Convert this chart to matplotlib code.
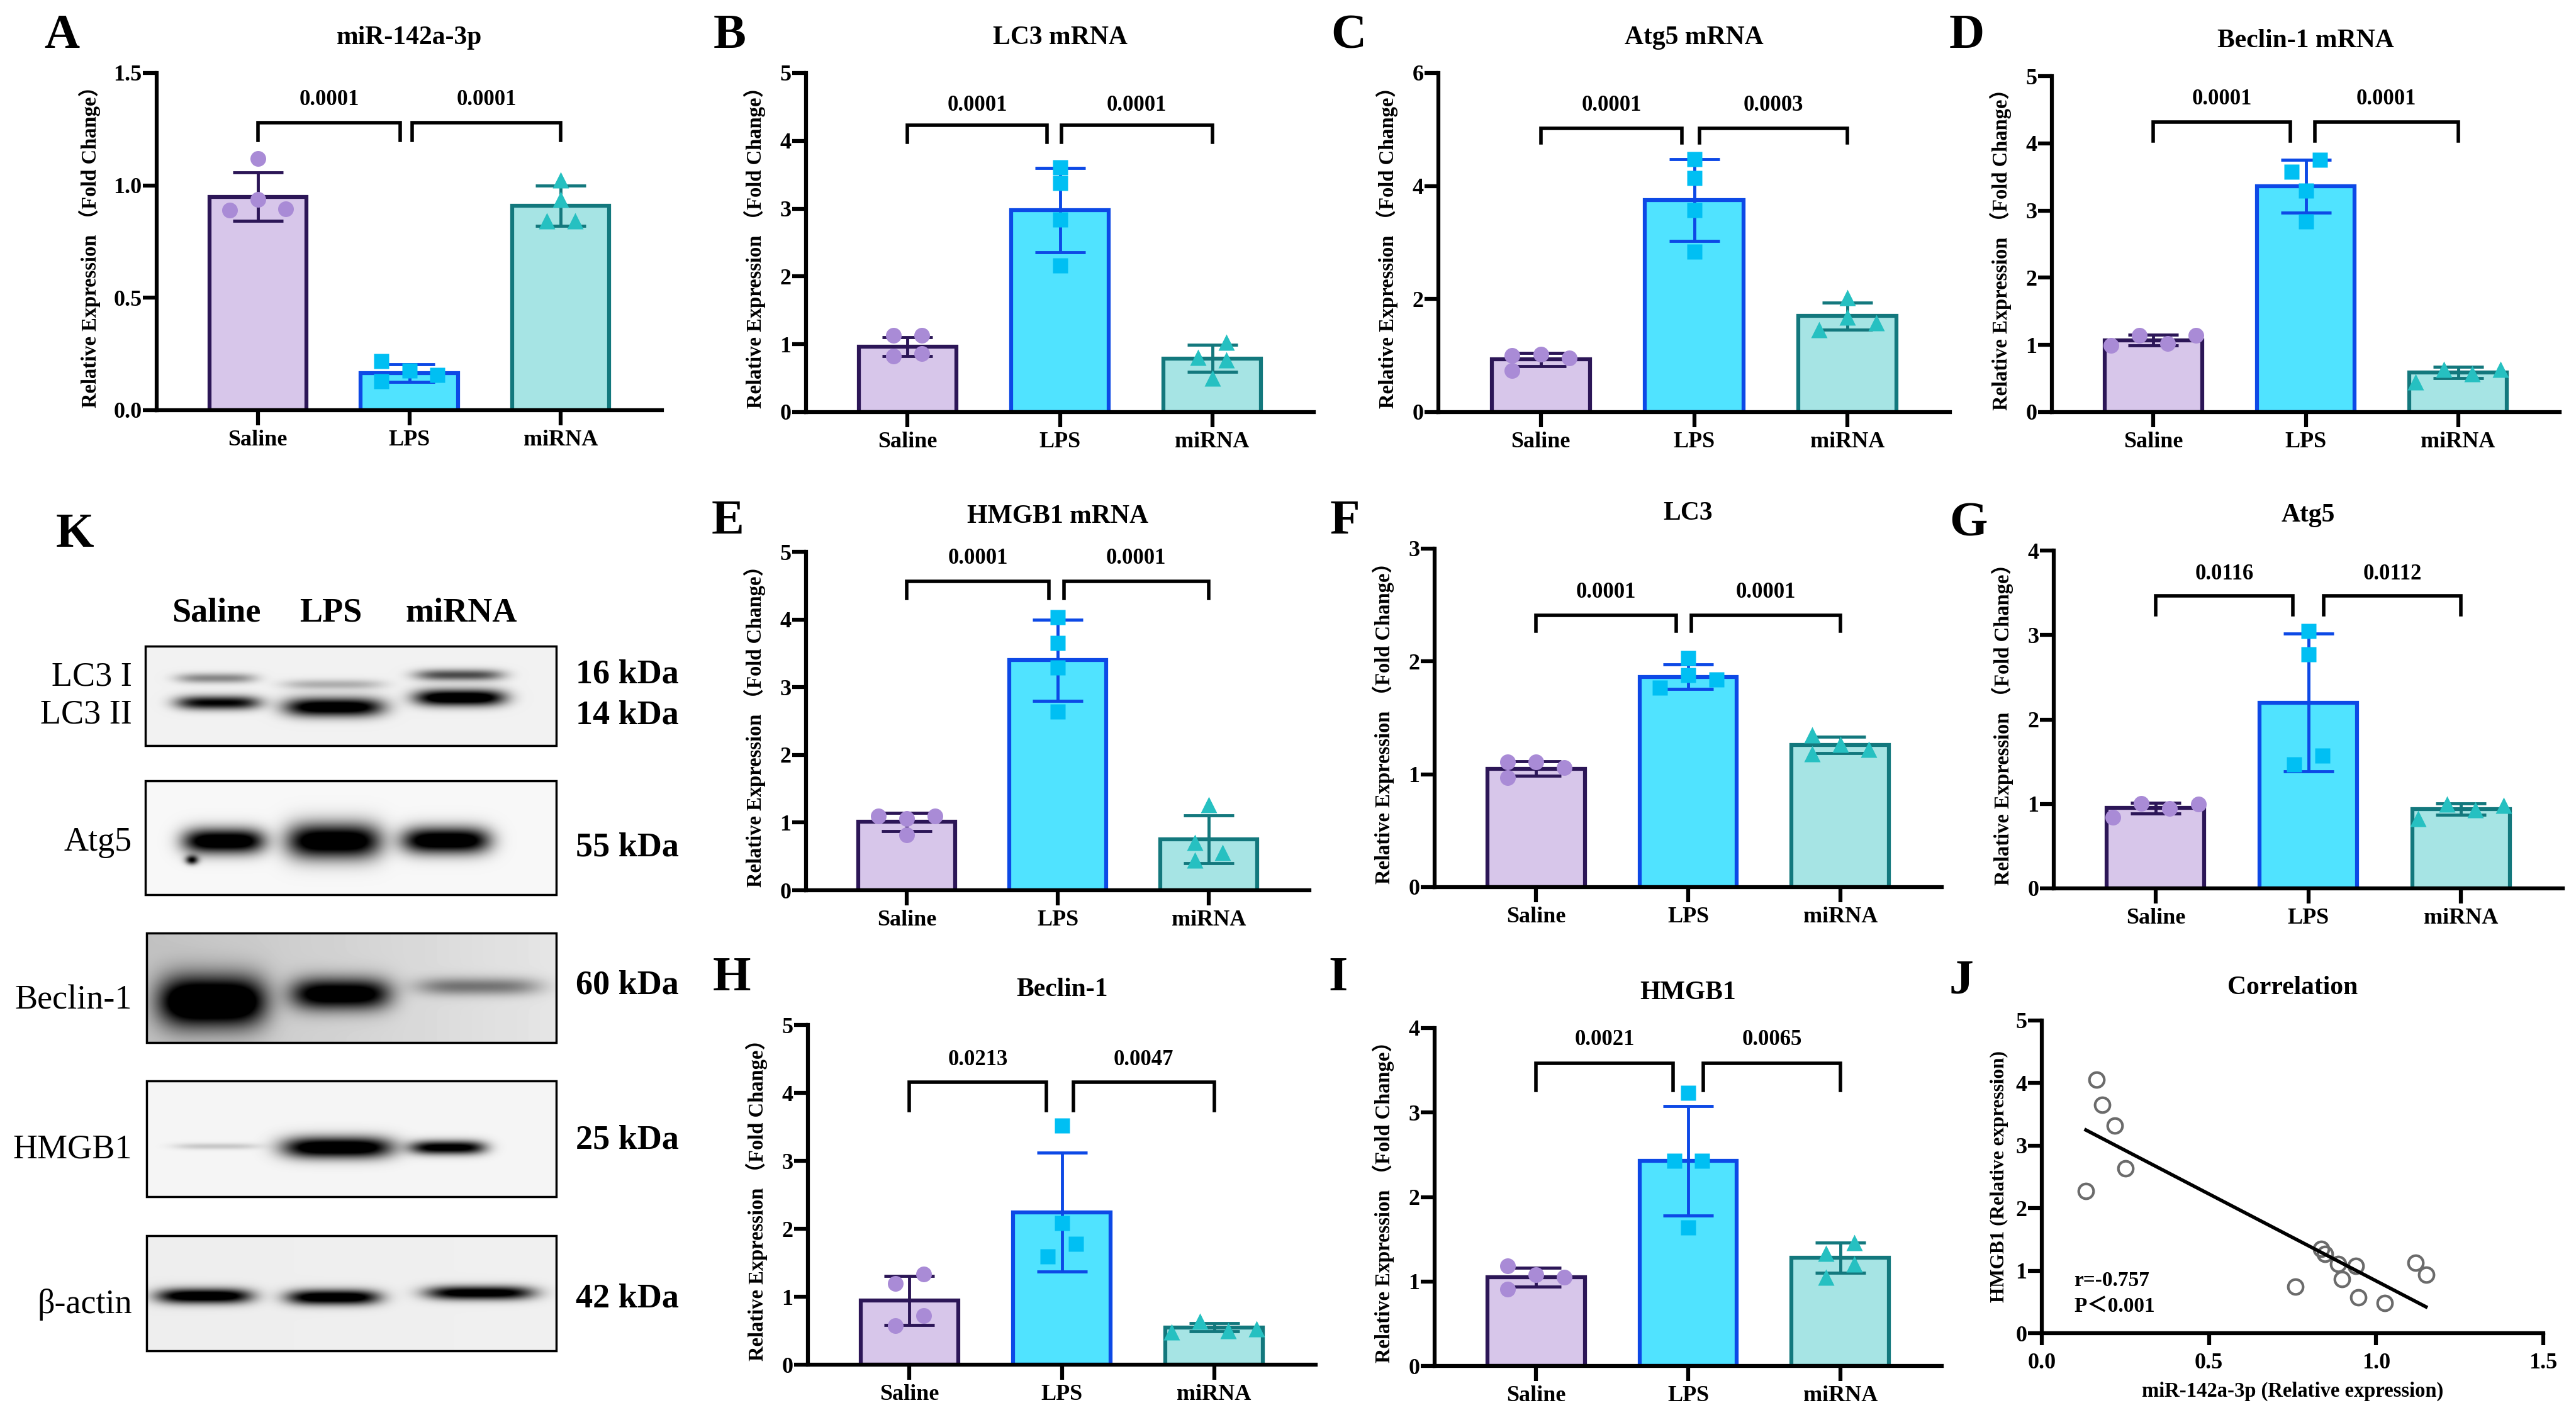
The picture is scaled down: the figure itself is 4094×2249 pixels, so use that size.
import matplotlib
matplotlib.use("Agg")
import matplotlib.pyplot as plt
import numpy as np
from matplotlib.patches import Rectangle
from matplotlib.ticker import FormatStrFormatter

plt.rcParams['font.family'] = ['Liberation Serif', 'Noto Sans CJK SC']
plt.rcParams['font.weight'] = 'bold'
plt.rcParams['axes.labelweight'] = 'bold'
plt.rcParams['axes.titleweight'] = 'bold'

# ---------------- data ----------------
groups = ['Saline', 'LPS', 'miRNA']

a_mean = [0.95, 0.165, 0.91]
a_sd = [0.107, 0.038, 0.09]
a_pts = [[1.12, 0.937, 0.889, 0.896], [0.217, 0.176, 0.156, 0.129], [1.025, 0.937, 0.842, 0.842]]
a_p = ['0.0001', '0.0001']

b_mean = [0.965, 2.98, 0.79]
b_sd = [0.135, 0.62, 0.2]
b_pts = [[1.13, 1.13, 0.83, 0.86], [3.61, 3.38, 2.84, 2.16], [1.03, 0.81, 0.77, 0.50]]
b_p = ['0.0001', '0.0001']

c_mean = [0.93, 3.75, 1.70]
c_sd = [0.12, 0.72, 0.24]
c_pts = [[1.0, 1.02, 0.96, 0.73], [4.48, 4.14, 3.57, 2.84], [2.03, 1.68, 1.58, 1.46]]
c_p = ['0.0001', '0.0003']

d_mean = [1.07, 3.36, 0.59]
d_sd = [0.08, 0.39, 0.08]
d_pts = [[1.14, 1.14, 1.02, 0.99], [3.75, 3.58, 3.30, 2.84], [0.64, 0.64, 0.57, 0.45]]
d_p = ['0.0001', '0.0001']

e_mean = [1.01, 3.40, 0.755]
e_sd = [0.135, 0.60, 0.355]
e_pts = [[1.10, 1.10, 1.06, 0.82], [4.03, 3.65, 3.29, 2.64], [1.26, 0.71, 0.56, 0.45]]
e_p = ['0.0001', '0.0001']

f_mean = [1.05, 1.865, 1.26]
f_sd = [0.065, 0.107, 0.075]
f_pts = [[1.11, 1.11, 1.06, 0.97], [2.03, 1.88, 1.84, 1.77], [1.35, 1.265, 1.22, 1.18]]
f_p = ['0.0001', '0.0001']

g_mean = [0.95, 2.20, 0.94]
g_sd = [0.06, 0.815, 0.066]
g_pts = [[1.007, 1.0, 0.948, 0.844], [3.05, 2.77, 1.57, 1.47], [1.0, 0.983, 0.93, 0.83]]
g_p = ['0.0116', '0.0112']

h_mean = [0.945, 2.245, 0.55]
h_sd = [0.365, 0.875, 0.06]
h_pts = [[1.33, 1.19, 0.72, 0.57], [3.52, 2.08, 1.78, 1.59], [0.64, 0.53, 0.50, 0.48]]
h_p = ['0.0213', '0.0047']

i_mean = [1.05, 2.43, 1.28]
i_sd = [0.11, 0.65, 0.18]
i_pts = [[1.185, 1.08, 1.05, 0.91], [3.23, 2.43, 2.43, 1.64], [1.46, 1.33, 1.21, 1.05]]
i_p = ['0.0021', '0.0065']

# correlation panel J
j_x = [0.163, 0.18, 0.219, 0.251, 0.132, 0.836, 0.846, 0.886, 0.939, 0.898, 0.758, 0.946, 1.026, 1.118, 1.149]
j_y = [4.05, 3.65, 3.32, 2.64, 2.27, 1.35, 1.27, 1.11, 1.08, 0.865, 0.745, 0.577, 0.48, 1.13, 0.94]
j_r = 'r=-0.757'
j_pval = 'P＜0.001'

# western blot (panel K) band intensities per lane
blot_left = ['LC3 I', 'LC3 II', 'Atg5', 'Beclin-1', 'HMGB1', 'β-actin']
blot_kda = ['16 kDa', '14 kDa', '55 kDa', '60 kDa', '25 kDa', '42 kDa']
lc3i_int = [0.35, 0.22, 0.55]
lc3ii_int = [0.8, 0.95, 1.0]
atg5_int = [1.0, 1.0, 1.0]
beclin_int = [1.0, 0.85, 0.35]
hmgb1_int = [0.15, 1.0, 0.9]
actin_int = [0.95, 0.95, 0.9]

# ---------------- style ----------------
W, H = 4094, 2249
fills = ['#D7C6EA', '#50E3FF', '#A6E4E4']
edges = ['#2C1657', '#0D49E6', '#13787D']
dots = ['#A98BD6', '#00BFF3', '#26C0C1']
markers = ['o', 's', '^']
msizes = [18, 17, 19]
STEP = 0.093

# horizontal spread of the points (multiples of STEP)
a_jit = [[0, 0, -2, 2], [-2, 0, 2, -2], [0, 0, -1, 1]]
b_jit = [[-1, 1, -1, 1], [0, 0, 0, 0], [1, -1, 1, 0]]
c_jit = [[-2, 0, 2, -2], [0, 0, 0, 0], [0, 0, 2, -2]]
d_jit = [[-1, 3, 1, -3], [1, -1, 0, 0], [3, -1, 1, -3]]
e_jit = [[-2, 2, 0, 0], [0, 0, 0, 0], [0, -1, 1, -1]]
f_jit = [[-2, 0, 2, -2], [0, 0, 2, -2], [-2, 0, 2, -2]]
g_jit = [[-1, 3, 1, -3], [0, 0, 1, -1], [-1, 3, 1, -3]]
h_jit = [[1, -1, 1, -1], [0, 0, 1, -1], [-1, 3, 1, -3]]
i_jit = [[-2, 0, 2, -2], [0, -1, 1, 0], [1, -1, 1, -1]]

fig = plt.figure(figsize=(W / 100, H / 100), dpi=100)


def px_axes(left, top, right, bottom):
    return fig.add_axes([left / W, 1 - bottom / H, (right - left) / W, (bottom - top) / H])


def style_axes(ax):
    for s in ['top', 'right']:
        ax.spines[s].set_visible(False)
    for s in ['left', 'bottom']:
        ax.spines[s].set_linewidth(4.5)
    ax.tick_params(axis='both', width=4.5, labelsize=26)
    ax.tick_params(axis='y', length=16, pad=1)
    ax.tick_params(axis='x', length=17, pad=5)


def bar_panel(ax, mean, sd, pts, jit, pvals, title, ymax, ystep, fmt, bkt, gaps, lab_off):
    x = np.arange(3)
    ax.bar(x, mean, width=0.64, color=fills, edgecolor=edges, linewidth=4.5, zorder=2)
    for k in range(3):
        ax.errorbar(k, mean[k], yerr=sd[k], color=edges[k], elinewidth=3.5,
                    capsize=29, capthick=3.5, zorder=3)
        ax.plot(k + np.array(jit[k]) * STEP, pts[k], ls='none', marker=markers[k],
                ms=msizes[k], color=dots[k], mec='none', zorder=4, clip_on=False)
    by, ly, ty = bkt
    spans = [(0, 1 - gaps[0]), (1 + gaps[1], 2)]
    for (x0, x1), p in zip(spans, pvals):
        ax.plot([x0, x0, x1, x1], [ly, by, by, ly], color='k', lw=4,
                solid_joinstyle='miter', zorder=5, clip_on=False)
        ax.text((x0 + x1) / 2, ty, p, ha='center', va='center', fontsize=25)
    ax.set_xlim(-0.667, 2.667)
    ax.set_ylim(0, ymax)
    ax.set_yticks(np.arange(0, ymax + 1e-9, ystep))
    ax.yaxis.set_major_formatter(FormatStrFormatter(fmt))
    ax.set_xticks(x, groups)
    style_axes(ax)
    ax.set_title(title, fontsize=30, pad=33)
    ax.set_ylabel('Relative Expression （Fold Change）', fontsize=23.5)
    w = ax.get_position().width * W
    ax.yaxis.set_label_coords(-lab_off / w, 0.5)


bar_panel(px_axes(249, 116, 1052, 652), a_mean, a_sd, a_pts, a_jit, a_p, 'miR-142a-3p',
          1.5, 0.5, '%.1f', (1.28, 1.20, 1.38), (0.06, 0.02), 89)
bar_panel(px_axes(1281, 116, 2088, 655), b_mean, b_sd, b_pts, b_jit, b_p, 'LC3 mRNA',
          5, 1, '%d', (4.23, 3.98, 4.52), (0.085, 0.01), 64)
bar_panel(px_axes(2286, 116, 3099, 655), c_mean, c_sd, c_pts, c_jit, c_p, 'Atg5 mRNA',
          6, 2, '%d', (5.02, 4.76, 5.43), (0.08, 0.035), 64)
bar_panel(px_axes(3261, 121, 4068, 655), d_mean, d_sd, d_pts, d_jit, d_p, 'Beclin-1 mRNA',
          5, 1, '%d', (4.32, 4.04, 4.66), (0.1, 0.06), 64)
bar_panel(px_axes(1281, 877, 2081, 1415), e_mean, e_sd, e_pts, e_jit, e_p, 'HMGB1 mRNA',
          5, 1, '%d', (4.56, 4.31, 4.90), (0.06, 0.04), 64)
bar_panel(px_axes(2280, 872, 3086, 1410), f_mean, f_sd, f_pts, f_jit, f_p, 'LC3',
          3, 1, '%d', (2.41, 2.27, 2.61), (0.08, 0.02), 64)
bar_panel(px_axes(3264, 875, 4073, 1412), g_mean, g_sd, g_pts, g_jit, g_p, 'Atg5',
          4, 1, '%d', (3.46, 3.24, 3.72), (0.1, 0.1), 64)
bar_panel(px_axes(1284, 1629, 2091, 2169), h_mean, h_sd, h_pts, h_jit, h_p, 'Beclin-1',
          5, 1, '%d', (4.16, 3.74, 4.49), (0.1, 0.075), 64)
bar_panel(px_axes(2280, 1634, 3086, 2171), i_mean, i_sd, i_pts, i_jit, i_p, 'HMGB1',
          4, 1, '%d', (3.58, 3.26, 3.86), (0.1, 0.1), 64)

# ---------------- J: correlation ----------------
axj = px_axes(3245, 1622, 4042, 2119)
axj.plot(j_x, j_y, ls='none', marker='o', ms=17, mfc='none', mec='#6b6b6b', mew=3, clip_on=False)
slope, icpt = np.polyfit(j_x, j_y, 1)
xl = np.array([min(j_x), max(j_x)])
axj.plot(xl, slope * xl + icpt, color='k', lw=4)
axj.set_xlim(0, 1.5)
axj.set_ylim(0, 5)
axj.set_xticks([0, 0.5, 1.0, 1.5])
axj.xaxis.set_major_formatter(FormatStrFormatter('%.1f'))
axj.set_yticks(range(6))
style_axes(axj)
axj.tick_params(axis='x', length=14, pad=8)
axj.text(0.096, 0.84, j_r, ha='left', va='center', fontsize=24)
axj.text(0.096, 0.43, j_pval, ha='left', va='center', fontsize=24)
axj.set_title('Correlation', fontsize=30, pad=30)
axj.set_xlabel('miR-142a-3p (Relative expression)', fontsize=23.5)
axj.set_ylabel('HMGB1 (Relative expression)', fontsize=22.5)
axj.xaxis.set_label_coords(0.5, -77 / 497)
axj.yaxis.set_label_coords(-53 / 797, 0.5)

# ---------------- K: western blot ----------------
axk = fig.add_axes([0, 0, 1100 / W, (H - 780) / H])
boxes = [(231, 1027, 884, 1185), (231, 1241, 884, 1422), (233, 1483, 884, 1657),
         (233, 1718, 884, 1902), (233, 1964, 884, 2147)]
backgrounds = [(0.05, 0.05), (0.03, 0.03), (0.24, 0.10), (0.04, 0.04), (0.07, 0.06)]
# band geometry (x centre, y centre, half width, half height) per lane
band_geom = [
    [[(344, 1078, 63, 8), (530, 1088, 80, 8), (730, 1073, 70, 9)],
     [(347, 1117, 67, 11), (531, 1124, 79, 15), (731, 1109, 72, 13)]],
    [[(356, 1337, 65, 20), (531, 1337, 75, 28), (709, 1336, 70, 21)]],
    [[(338, 1592, 85, 40), (542, 1580, 79, 25), (761, 1568, 98, 14)]],
    [[(345, 1822, 68, 5), (537, 1824, 88, 17), (712, 1824, 60, 11)]],
    [[(325, 2060, 76, 12), (530, 2062, 74, 12), (763, 2055, 86, 11)]],
]
band_int = [[lc3i_int, lc3ii_int], [atg5_int], [beclin_int], [hmgb1_int], [actin_int]]

for (x0, y0, x1, y1), (bl, br), geoms, ints in zip(boxes, backgrounds, band_geom, band_int):
    xx, yy = np.meshgrid(np.arange(x0, x1) + 0.5, np.arange(y0, y1) + 0.5)
    dark = bl + (br - bl) * (xx - x0) / (x1 - x0)
    for row, vals in zip(geoms, ints):
        for (xc, yc, hw, hh), v in zip(row, vals):
            dark = dark + v * 1.2 * np.exp(-(np.abs(xx - xc) / hw) ** 4) * np.exp(-((yy - yc) / hh) ** 2)
    if y0 == 1241:
        dark = dark + 0.9 * np.exp(-((xx - 305) / 10) ** 2 - ((yy - 1367) / 7) ** 2)
    gray = 1 - np.clip(dark, 0, 1)
    axk.imshow(gray, cmap='gray', vmin=0, vmax=1, extent=(x0, x1, y1, y0),
               interpolation='bilinear', aspect='auto', zorder=1)
    axk.add_patch(Rectangle((x0, y0), x1 - x0, y1 - y0, fill=False, ec='k', lw=2.5, zorder=2))

axk.set_xlim(0, 1100)
axk.set_ylim(H, 780)
axk.axis('off')

for x, g in zip([344, 526, 733], groups):
    axk.text(x, 975, g, ha='center', va='center', fontsize=39, fontweight='bold')
for y, t in zip([1076, 1136, 1339, 1590, 1827, 2074], blot_left):
    axk.text(210, y, t, ha='right', va='center', fontsize=39, fontweight='normal')
for y, t in zip([1073, 1138, 1348, 1567, 1813, 2065], blot_kda):
    axk.text(915, y, t, ha='left', va='center', fontsize=39, fontweight='bold')

# ---------------- panel letters ----------------
letters = [('A', 98, 58), ('B', 1160, 58), ('C', 2143, 58), ('D', 3126, 58),
           ('K', 119, 850), ('E', 1157, 830), ('F', 2137, 830), ('G', 3129, 833),
           ('H', 1163, 1555), ('I', 2127, 1555), ('J', 3117, 1560)]
for t, x, y in letters:
    fig.text(x / W, 1 - y / H, t, ha='center', va='center', fontsize=56, fontweight='bold')

fig.savefig('out.png', dpi=100)
